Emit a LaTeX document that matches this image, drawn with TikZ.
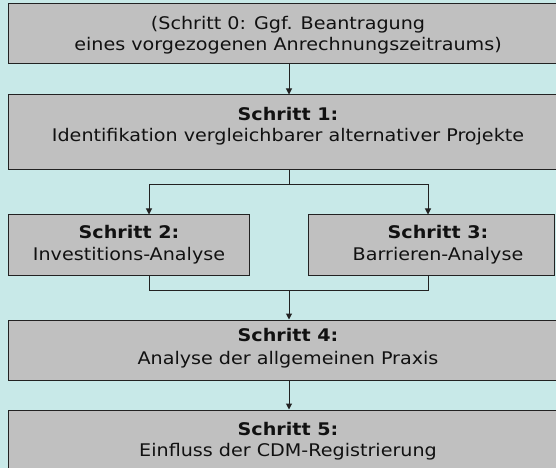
\documentclass[tikz,border=0pt]{standalone}
\usepackage{fontspec}
\setmainfont[FakeStretch=1.1]{DejaVu Sans}
\usetikzlibrary{arrows.meta}
\definecolor{bgcol}{HTML}{C8E9E8}
\definecolor{boxcol}{HTML}{C0C0C0}
\definecolor{linecol}{HTML}{222222}
\definecolor{txtcol}{HTML}{111111}
\tikzset{
  stepbox/.style={draw=linecol, line width=1bp, fill=boxcol, inner sep=0pt},
  txt/.style={anchor=base, inner sep=0pt, text=txtcol, font=\fontsize{17.4bp}{22bp}\selectfont},
  btxt/.style={txt, font=\fontsize{17.4bp}{22bp}\selectfont\bfseries},
  conn/.style={draw=linecol, line width=1bp},
  arr/.style={conn, -{Triangle[length=6bp,width=6bp]}}
}
\begin{document}
\begin{tikzpicture}[x=1bp,y=-1bp]
\useasboundingbox (0,0) rectangle (556,468);
\fill[bgcol] (0,0) rectangle (556,468);
\begin{scope}
\clip (0,0) rectangle (556,468);
\node[stepbox, minimum width=560bp, minimum height=60bp] (b0) at (289,34) {};
\node[stepbox, minimum width=560bp, minimum height=75bp] (b1) at (289,132.5) {};
\node[stepbox, minimum width=240bp, minimum height=60bp] (b2) at (129,245) {};
\node[stepbox, minimum width=246bp, minimum height=60bp] (b3) at (431,245) {};
\node[stepbox, minimum width=560bp, minimum height=60bp] (b4) at (289,350) {};
\node[stepbox, minimum width=560bp, minimum height=70bp] (b5) at (289,445) {};
\end{scope}
\node[txt] (t0a) at (288,30) {(Schritt 0: Ggf. Beantragung};
\node[txt] (t0b) at (288,51) {eines vorgezogenen Anrechnungszeitraums)};
\node[btxt] (t1a) at (288,120.5) {Schritt 1:};
\node[txt] (t1b) at (288,141.5) {Identifikation vergleichbarer alternativer Projekte};
\node[btxt] (t2a) at (129,238.5) {Schritt 2:};
\node[txt] (t2b) at (129,261) {Investitions-Analyse};
\node[btxt] (t3a) at (438,238.5) {Schritt 3:};
\node[txt] (t3b) at (438,261) {Barrieren-Analyse};
\node[btxt] (t4a) at (288,341) {Schritt 4:};
\node[txt] (t4b) at (288,364) {Analyse der allgemeinen Praxis};
\node[btxt] (t5a) at (288,435) {Schritt 5:};
\node[txt] (t5b) at (288,456.5) {Einfluss der CDM-Registrierung};
\coordinate (ax) at (289,0);
\coordinate (lx) at (149,0);
\coordinate (rx) at (428,0);
\coordinate (sp) at (289,185);
\coordinate (mg) at (289,290);
\draw[arr] (b0.south -| ax) -- (b1.north -| ax);
\draw[conn] (b1.south -| ax) -- (sp);
\draw[arr] (sp) -| (b2.north -| lx);
\draw[arr] (sp) -| (b3.north -| rx);
\draw[conn] (b2.south -| lx) |- (mg);
\draw[conn] (b3.south -| rx) |- (mg);
\draw[arr] (mg) -- (b4.north -| ax);
\draw[arr] (b4.south -| ax) -- (b5.north -| ax);
\end{tikzpicture}
\end{document}
